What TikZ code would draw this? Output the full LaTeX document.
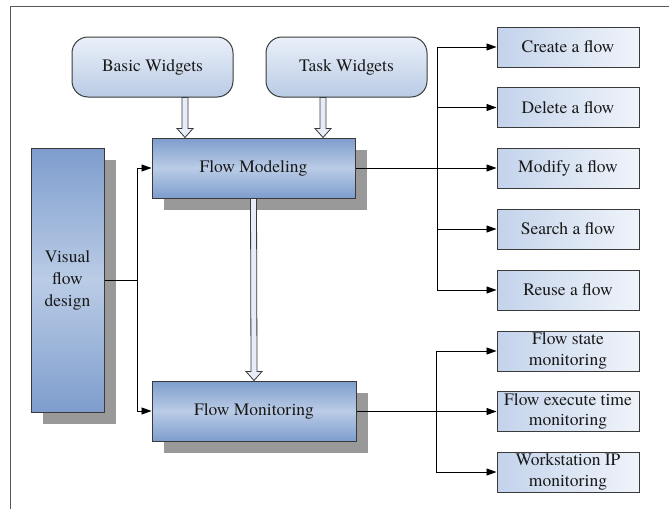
\documentclass[tikz,border=0pt]{standalone}
\usepackage{fontspec}
\newfontfamily\tnr{texgyretermes-regular.otf}
\usetikzlibrary{arrows.meta,calc,shadows}
\definecolor{bdark}{HTML}{7E9DCD}
\definecolor{blight}{HTML}{BACCE6}
\definecolor{wtop}{HTML}{EBF0F9}
\definecolor{wbot}{HTML}{B9CBE5}
\definecolor{sleft}{HTML}{C3D3EB}
\definecolor{sright}{HTML}{F0F4FA}
\definecolor{shad}{HTML}{999999}
\definecolor{edge}{HTML}{3A3A3A}
\definecolor{arrfill}{HTML}{E6EDF8}
\newcommand\blockarrow[2]{%
  \draw[edge, line width=0.8pt, fill=arrfill]
    ($(#1)+(-3,0)$) -- ($(#2)+(-3,-9)$) -- ($(#2)+(-8,-9)$) -- (#2)
    -- ($(#2)+(8,-9)$) -- ($(#2)+(3,-9)$) -- ($(#1)+(3,0)$) -- cycle;}
\begin{document}
\begin{tikzpicture}[x=1pt,y=-1pt,
  every node/.style={font=\tnr\fontsize{17.5}{20.5}\selectfont, text=black!90, align=center, inner sep=0pt},
  bigbox/.style={draw=edge, line width=1pt, top color=bdark, bottom color=bdark, middle color=blight,
     drop shadow={shadow xshift=12pt, shadow yshift=-12pt, fill=shad, opacity=1}},
  widget/.style={draw=edge, line width=1pt, rounded corners=16pt, top color=wtop, bottom color=wbot,
     minimum width=161pt, minimum height=60pt},
  smallbox/.style={draw=edge, line width=1pt, left color=sleft, right color=sright,
     minimum width=142pt, minimum height=40pt},
  conn/.style={line width=0.9pt, black, -{Triangle[length=10pt,width=7pt]}},
  plain/.style={line width=0.9pt, black}]
\useasboundingbox (0,0) rectangle (669,509);
\draw[gray!70!black, line width=1pt] (10.7,509) -- (10.7,6) -- (669,6);

\node[widget] (bw) at (152.5,67) {Basic Widgets};
\node[widget] (tw) at (346.5,67) {Task Widgets};
\node[bigbox, minimum width=203pt, minimum height=60pt] (fm) at (253.5,168) {Flow Modeling};
\node[bigbox, minimum width=204pt, minimum height=60pt] (fmon) at (254,411) {Flow Monitoring};
\node[bigbox, minimum width=73pt, minimum height=264pt, font=\tnr\fontsize{17.5}{22}\selectfont] (vfd) at (67.5,280) {Visual\\flow\\design};

\node[smallbox] (create) at (568,47) {Create a flow};
\node[smallbox] (delete) at (568,107.5) {Delete a flow};
\node[smallbox] (modify) at (568,168) {Modify a flow};
\node[smallbox] (search) at (568,229) {Search a flow};
\node[smallbox] (reuse) at (568,290) {Reuse a flow};
\node[smallbox] (state) at (568,351) {Flow state\\monitoring};
\node[smallbox] (exec) at (568,411.5) {Flow execute time\\monitoring};
\node[smallbox] (ws) at (568,472) {Workstation IP\\monitoring};

% block arrows
\coordinate (a1s) at ([xshift=32.5pt]bw.south);
\coordinate (a1e) at ([xshift=-68.5pt]fm.north);
\coordinate (a2s) at ([xshift=-23.5pt]tw.south);
\coordinate (a2e) at ([xshift=69.5pt]fm.north);
\blockarrow{a1s}{a1e}
\blockarrow{a2s}{a2e}
\blockarrow{fm.south}{fmon.north}

% visual flow design connectors
\coordinate (j1) at (137,280);
\draw[plain] (vfd.east |- j1) -- (j1);
\draw[conn] (j1) |- (fm.west);
\draw[conn] (j1) |- (fmon.west);

% flow modeling fan-out
\coordinate (b1) at (437,168);
\draw[conn] (fm.east) -- (modify.west);
\draw[conn] (b1) |- (create.west);
\draw[conn] (b1) |- (delete.west);
\draw[conn] (b1) |- (search.west);
\draw[conn] (b1) |- (reuse.west);

% flow monitoring fan-out
\coordinate (b2) at (436,411.5);
\draw[conn] (fmon.east |- b2) -- (exec.west);
\draw[conn] (b2) |- (state.west);
\draw[conn] (b2) |- (ws.west);
\end{tikzpicture}
\end{document}
